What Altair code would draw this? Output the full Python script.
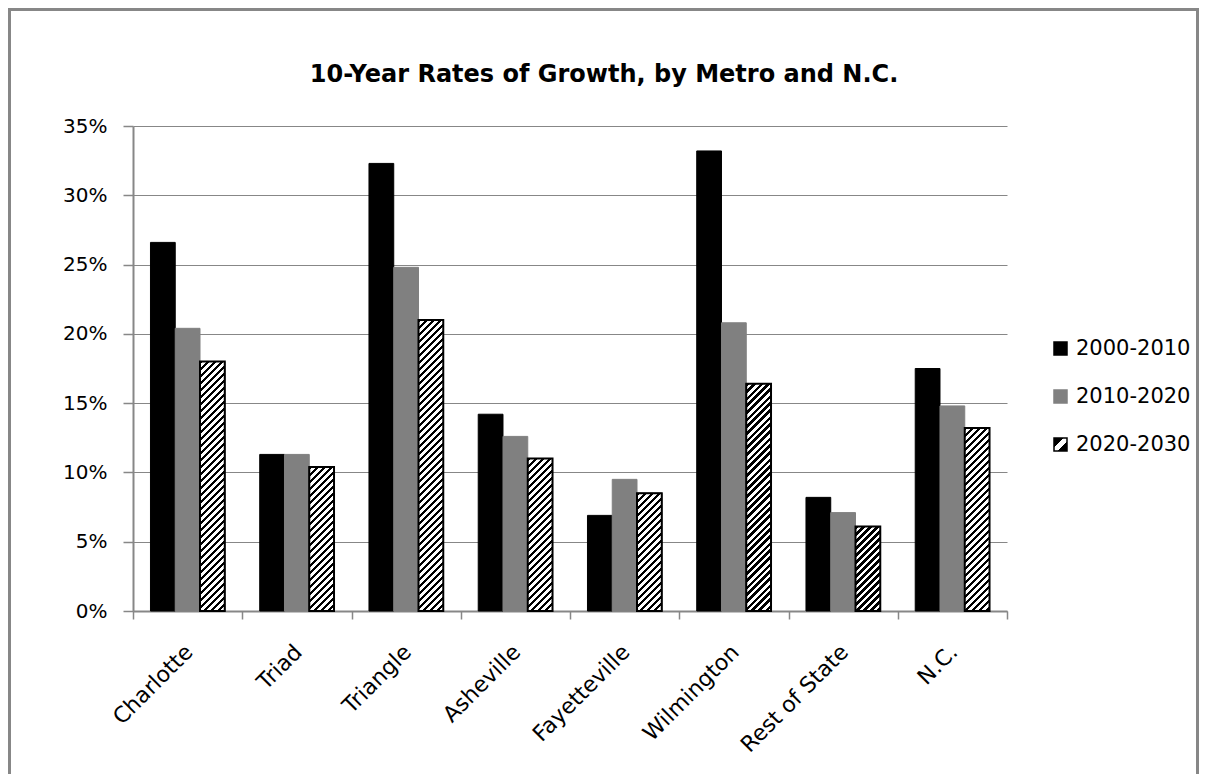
import altair as alt
import pandas as pd

# ---- data ----
categories = ["Charlotte", "Triad", "Triangle", "Asheville", "Fayetteville",
              "Wilmington", "Rest of State", "N.C."]
series = ["2000-2010", "2010-2020", "2020-2030"]
growth_2000_2010 = [26.6, 11.3, 32.3, 14.2, 6.9, 33.2, 8.2, 17.5]
growth_2010_2020 = [20.4, 11.3, 24.8, 12.6, 9.5, 20.8, 7.1, 14.8]
growth_2020_2030 = [18.0, 10.4, 21.0, 11.0, 8.5, 16.4, 6.1, 13.2]
y_ticks = [0, 0.05, 0.10, 0.15, 0.20, 0.25, 0.30, 0.35]
TITLE = "10-Year Rates of Growth, by Metro and N.C."

rows = []
for vals, s in zip([growth_2000_2010, growth_2010_2020, growth_2020_2030], series):
    for c, v in zip(categories, vals):
        rows.append({"cat": c, "series": s, "v": v / 100.0})
df = pd.DataFrame(rows)

# ---- layout / style ----
FONT = "DejaVu Sans"
GRAY = "#878787"
W, H = 874, 485
YMAX = 0.35
GROUP_FRAC = 0.68                      # share of each category slot used by bars
step = W / len(categories)
barw = step * GROUP_FRAC / len(series)
PO_OFF = (step / barw - len(series)) / 2   # outer padding of the offset scale
S = H / YMAX  # pixels per unit of value

# hatch gradient (45-degree stripes, constant pixel period) per bar
N_STRIPES = 75
PERIOD = 7.0
K = N_STRIPES * PERIOD
FRAC = 0.45
stops = []
for k in range(N_STRIPES):
    a = k / N_STRIPES
    b = (k + FRAC) / N_STRIPES
    c = (k + 1) / N_STRIPES
    stops += [(a, "#000"), (b, "#000"), (b, "#fff"), (c, "#fff")]
stops_js = ",".join("{'offset':%.5f,'color':'%s'}" % (o, col) for o, col in stops)
hh = "(datum.v*%.4f)" % S
den = "(%.4f+%s*%s)" % (barw * barw, hh, hh)
HATCH = ("{'gradient':'linear','x1':0,'y1':0,"
         "'x2':%.4f/%s,'y2':%.4f*%s/%s,'stops':[%s]}"
         % (K * barw, den, K, hh, den, stops_js))

LEG_HATCH = ("{'gradient':'linear','x1':0,'y1':0,'x2':1,'y2':1,'stops':["
             "{'offset':0,'color':'#000'},{'offset':0.38,'color':'#000'},"
             "{'offset':0.38,'color':'#fff'},{'offset':0.62,'color':'#fff'},"
             "{'offset':0.62,'color':'#000'},{'offset':1,'color':'#000'}]}")

leg = alt.Legend(title=None, orient="none", legendX=917, legendY=212,
                 symbolType="square", symbolSize=169, symbolStrokeWidth=1.5,
                 labelFont=FONT, labelFontSize=21, labelColor="#000",
                 rowPadding=26, labelOffset=5, padding=0, labelLimit=0)

x_enc = alt.X("cat:N", sort=categories, title=None,
              scale=alt.Scale(domain=categories, paddingInner=0, paddingOuter=0),
              axis=alt.Axis(labelAngle=-45, labelAlign="right", labelBaseline="top",
                            labelOffset=-6, labelPadding=22, tickBand="extent",
                            tickSize=8, tickColor=GRAY, tickWidth=1.5,
                            domainColor=GRAY, domainWidth=2, grid=False,
                            labelFont=FONT, labelFontSize=22, labelColor="#000",
                            labelLimit=0))
y_enc = alt.Y("v:Q", title=None,
              scale=alt.Scale(domain=[0, YMAX], nice=False, zero=True),
              axis=alt.Axis(values=y_ticks, format=".0%", tickSize=10,
                            tickColor=GRAY, tickWidth=1.5, domainColor=GRAY,
                            domainWidth=2, grid=True, gridColor=GRAY, gridWidth=1,
                            labelPadding=16, labelFont=FONT, labelFontSize=20,
                            labelColor="#000"))
xo_enc = alt.XOffset("series:N", sort=series,
                     scale=alt.Scale(domain=series, paddingInner=0, paddingOuter=PO_OFF))

bars = alt.Chart(df).mark_bar().encode(
    x=x_enc, y=y_enc, xOffset=xo_enc,
    color=alt.Color("series:N", sort=series,
                    scale=alt.Scale(domain=series,
                                    range=["#000000", "#808080", {"expr": LEG_HATCH}]),
                    legend=leg),
    stroke=alt.Stroke("series:N", sort=series,
                      scale=alt.Scale(domain=series,
                                      range=["#000000", "#808080", "#000000"]),
                      legend=leg),
)

hatched = alt.Chart(df).transform_filter(
    alt.datum.series == "2020-2030"
).mark_bar(stroke="#000000", strokeWidth=2).encode(
    x=x_enc, y=y_enc, xOffset=xo_enc,
    fill=alt.value({"expr": HATCH}),
)

border = alt.Chart(pd.DataFrame({"k": [0]})).mark_rect(
    filled=False, stroke=GRAY, strokeWidth=3
).encode(x=alt.value(-123.5), x2=alt.value(1064.5),
         y=alt.value(-116.5), y2=alt.value(700))

title = alt.Chart(pd.DataFrame({"t": [TITLE]})).mark_text(
    font=FONT, fontSize=24, fontWeight="bold", align="center",
    baseline="alphabetic", color="#000"
).encode(x=alt.value(471), y=alt.value(-44), text="t:N")

chart = alt.layer(border, title, bars, hatched).properties(
    width=W, height=H,
    padding={"left": 125, "top": 118, "right": 192, "bottom": 163},
    autosize=alt.AutoSizeParams(type="none"),
    background="white",
).configure_view(stroke=None)

chart.save("out.html", embed_options={"renderer": "svg", "actions": False})
